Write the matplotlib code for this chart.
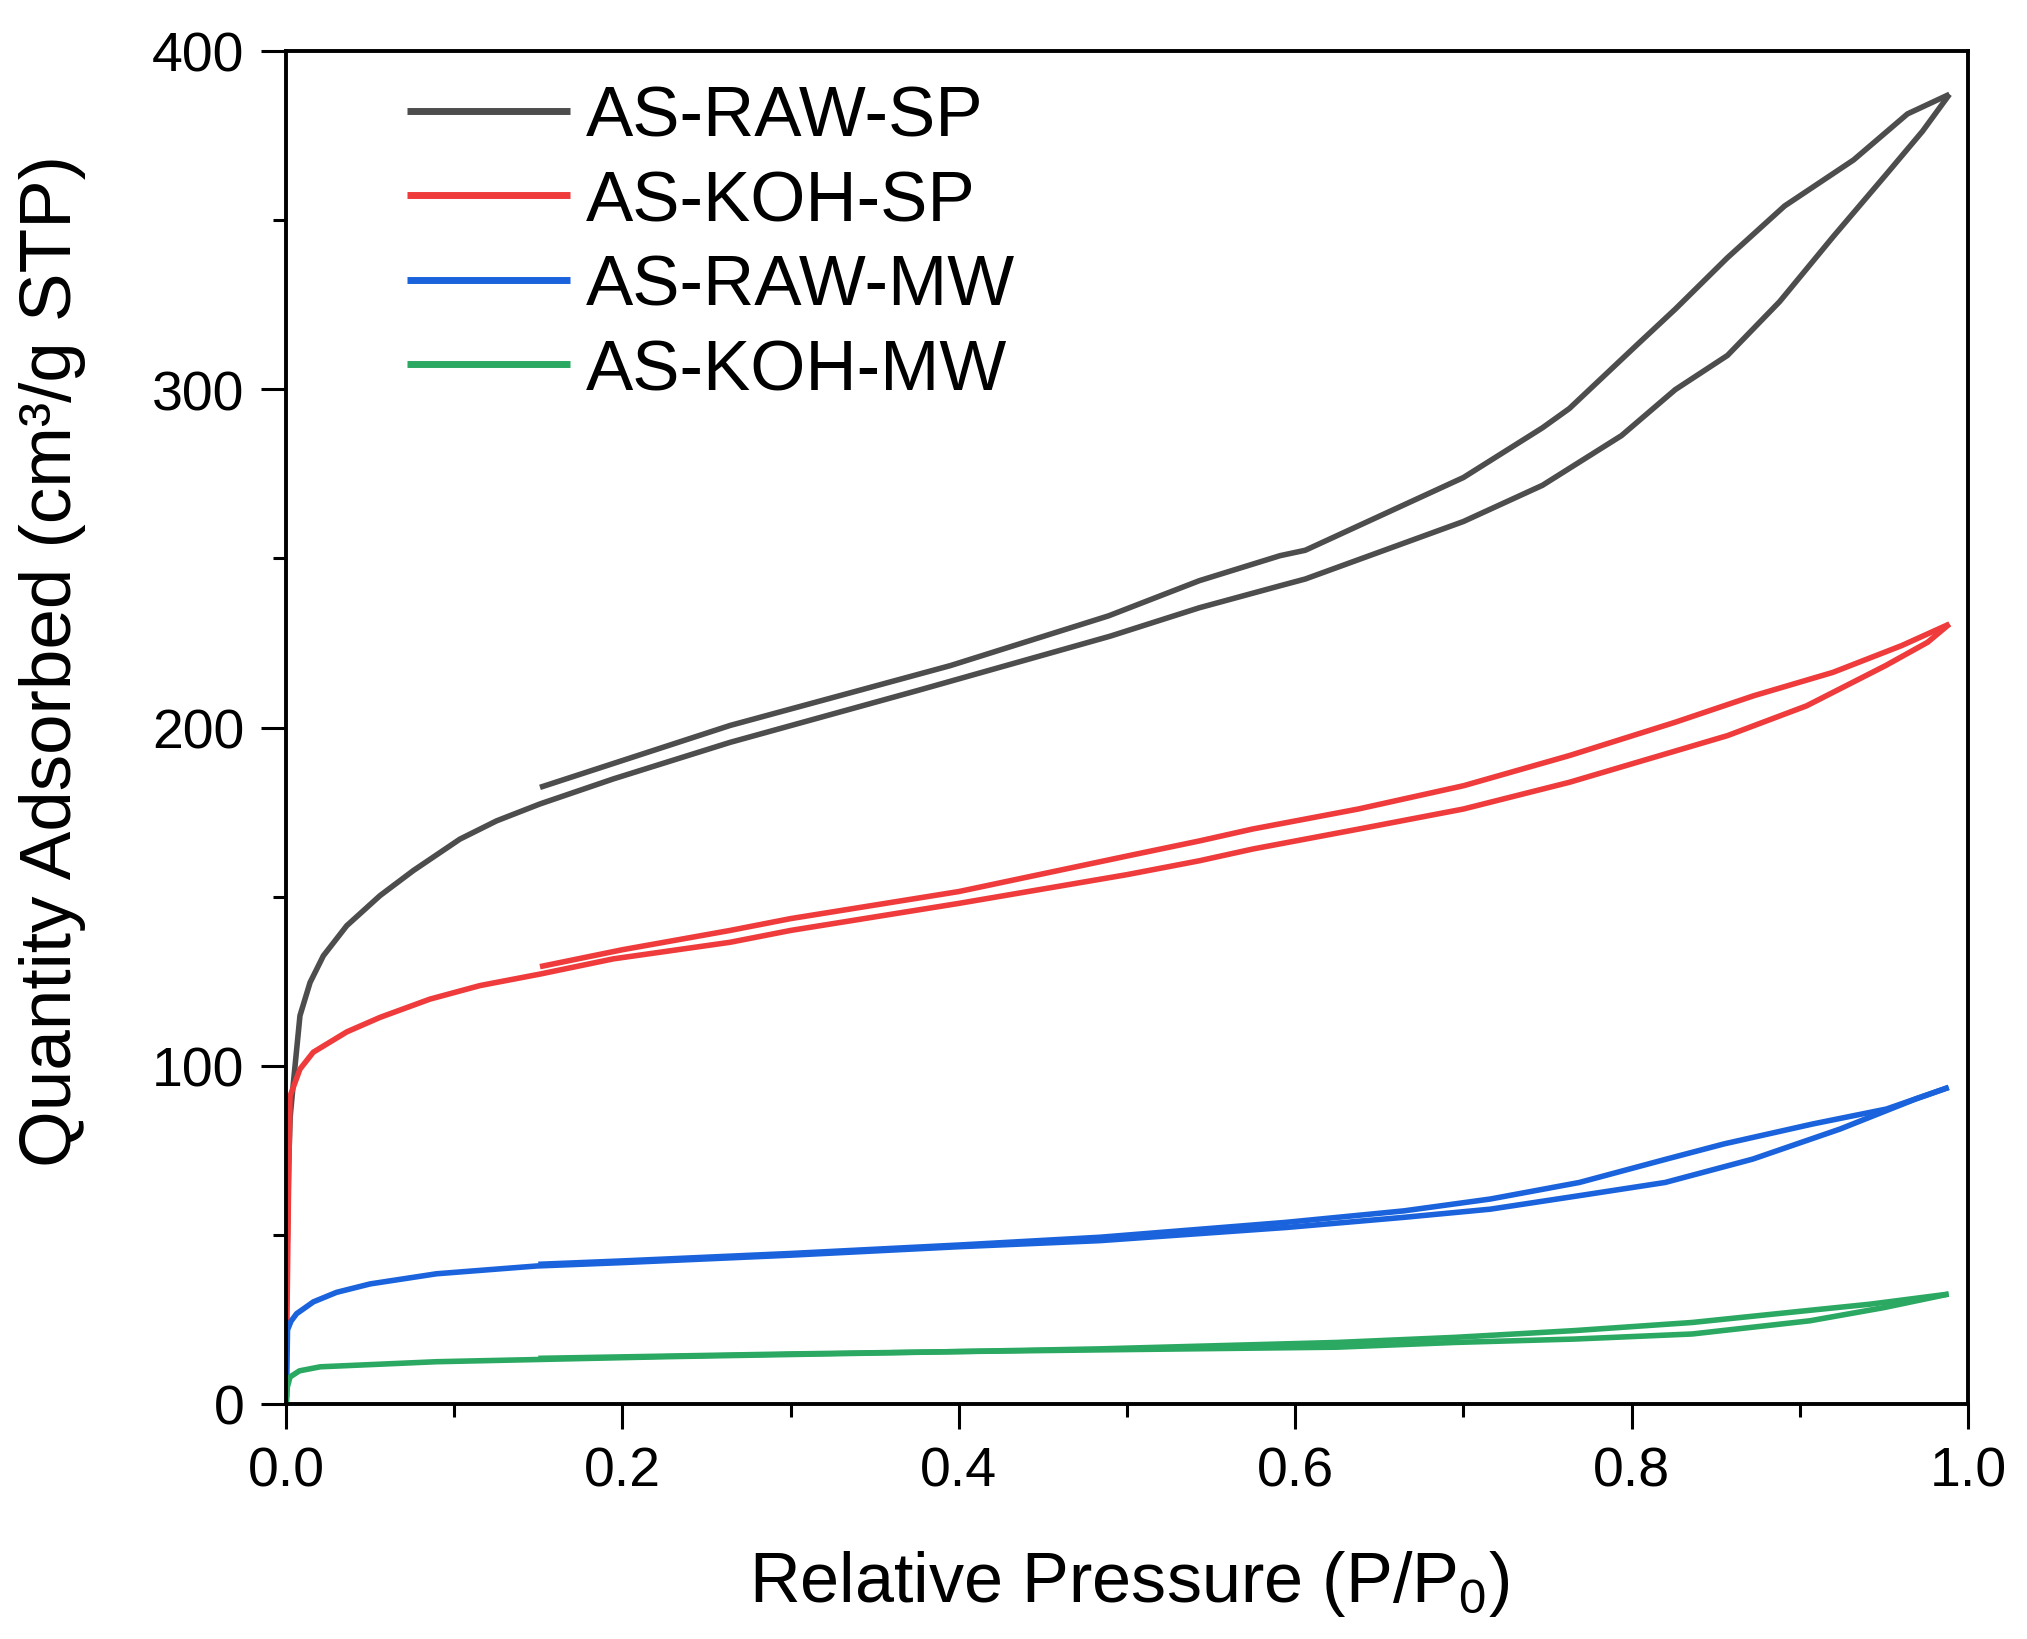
import matplotlib
matplotlib.use("Agg")
import matplotlib.pyplot as plt
from matplotlib.ticker import MultipleLocator

plt.rcParams['font.family'] = ['Liberation Sans', 'DejaVu Sans']
plt.rcParams['mathtext.default'] = 'regular'

# AS-RAW-SP
raw_sp_ads_p = [0.0008, 0.0015, 0.0025, 0.0044, 0.0083, 0.0143, 0.0222, 0.0361, 0.0559, 0.0757,
                0.1034, 0.1252, 0.151, 0.1946, 0.264, 0.376, 0.49, 0.543, 0.591, 0.606, 0.700,
                0.747, 0.794, 0.826, 0.857, 0.888, 0.920, 0.951, 0.973, 0.989]
raw_sp_ads_q = [48, 70, 85, 95, 114.8, 124.6, 132.5, 141.4, 150.3, 157.7,
                167, 172.4, 177.4, 184.8, 195.6, 211, 227, 235.4, 241.9, 243.9, 260.9,
                271.6, 286.3, 299.9, 310, 325.9, 345.2, 363.3, 376.3, 387.2]
raw_sp_des_p = [0.989, 0.964, 0.932, 0.891, 0.857, 0.826, 0.804, 0.763, 0.747, 0.700, 0.606,
                0.591, 0.543, 0.489, 0.395, 0.264, 0.151]
raw_sp_des_q = [387.2, 381.4, 367.8, 354.2, 338.9, 323.7, 313.5, 294.3, 288.6, 273.9, 252.4,
                250.8, 243.4, 233, 218.3, 200.6, 182.3]

# AS-KOH-SP
koh_sp_ads_p = [0.0005, 0.0014, 0.0024, 0.0083, 0.0162, 0.0361, 0.0559, 0.0856, 0.1153, 0.151,
                0.1946, 0.264, 0.3, 0.4, 0.5, 0.543, 0.575, 0.638, 0.700, 0.763, 0.810, 0.857,
                0.904, 0.951, 0.976, 0.989]
koh_sp_ads_q = [22, 60, 91, 99, 104, 110, 114.3, 119.7, 123.7, 127.1,
                131.6, 136.5, 140, 148, 156.5, 160.6, 164.1, 170, 175.9, 183.8, 190.7, 197.6,
                206.4, 218.3, 225.2, 230.6]
koh_sp_des_p = [0.989, 0.9605, 0.9197, 0.8727, 0.8256, 0.763, 0.7002, 0.6375, 0.5748, 0.5434,
                0.5, 0.4, 0.3, 0.264, 0.2, 0.151]
koh_sp_des_q = [230.6, 224.2, 216.3, 209.4, 201.5, 191.7, 182.8, 175.9, 170, 166.5,
                162, 151.5, 143.5, 140, 134.3, 129.3]

# AS-RAW-MW
raw_mw_ads_p = [0.0003, 0.0009, 0.003, 0.0063, 0.0163, 0.03, 0.05, 0.0895, 0.149, 0.2, 0.3,
                0.4, 0.484, 0.595, 0.665, 0.716, 0.769, 0.820, 0.872, 0.924, 0.969, 0.9885]
raw_mw_ads_q = [2, 21.9, 24.5, 26.7, 30.2, 33, 35.5, 38.5, 40.8, 41.8, 44,
                46.5, 48.3, 52.2, 55.2, 57.6, 61.6, 65.5, 72.4, 81.3, 90.2, 93.6]
raw_mw_des_p = [0.9885, 0.9515, 0.9078, 0.855, 0.8207, 0.769, 0.716, 0.6647, 0.5945, 0.4839,
                0.4, 0.3, 0.2, 0.15]
raw_mw_des_q = [93.6, 87.2, 82.8, 76.9, 72.4, 65.5, 60.6, 57.1, 53.7, 49.3,
                47, 44.5, 42.3, 41.3]

# AS-KOH-MW
koh_mw_ads_p = [0.0003, 0.0008, 0.0024, 0.008, 0.0204, 0.0895, 0.228, 0.4, 0.484, 0.625, 0.695,
                0.766, 0.836, 0.906, 0.95, 0.9885]
koh_mw_ads_q = [0.5, 5, 8, 9.8, 11, 12.5, 14, 15.5, 16, 16.8, 18.2,
                19.2, 20.7, 24.6, 28.5, 32.5]
koh_mw_des_p = [0.9885, 0.9416, 0.906, 0.836, 0.766, 0.695, 0.625, 0.484, 0.4, 0.3, 0.15]
koh_mw_des_q = [32.5, 29.5, 27.7, 24.1, 21.7, 19.7, 18.2, 16.3, 15.5, 14.8, 13.5]

series = [
    ('AS-RAW-SP', '#4d4d4d', raw_sp_ads_p, raw_sp_ads_q, raw_sp_des_p, raw_sp_des_q),
    ('AS-KOH-SP', '#ef3b3b', koh_sp_ads_p, koh_sp_ads_q, koh_sp_des_p, koh_sp_des_q),
    ('AS-RAW-MW', '#1a63dc', raw_mw_ads_p, raw_mw_ads_q, raw_mw_des_p, raw_mw_des_q),
    ('AS-KOH-MW', '#2ba862', koh_mw_ads_p, koh_mw_ads_q, koh_mw_des_p, koh_mw_des_q),
]

fig = plt.figure(figsize=(20.27, 16.40), dpi=100)
ax = fig.add_axes([286 / 2027, 1 - 1405 / 1640, (1968 - 286) / 2027, (1405 - 52) / 1640])

for name, col, ap, aq, dp, dq in series:
    ax.plot(ap, aq, color=col, lw=4, label=name, solid_capstyle='butt', solid_joinstyle='round')
    ax.plot(dp, dq, color=col, lw=4, solid_capstyle='butt', solid_joinstyle='round')

ax.set_xlim(0, 1)
ax.set_ylim(0, 400)
ax.xaxis.set_major_locator(MultipleLocator(0.2))
ax.xaxis.set_minor_locator(MultipleLocator(0.1))
ax.yaxis.set_major_locator(MultipleLocator(100))
ax.yaxis.set_minor_locator(MultipleLocator(50))
ax.xaxis.set_major_formatter(matplotlib.ticker.FormatStrFormatter('%.1f'))
ax.tick_params(which='both', direction='out', top=False, right=False, width=2.2, labelsize=40)
ax.tick_params(which='major', length=18)
ax.tick_params(which='minor', length=9.5)
ax.tick_params(axis='x', pad=12)
ax.tick_params(axis='y', pad=12)
for s in ax.spines.values():
    s.set_linewidth(2.8)

leg = ax.legend(loc='upper left', bbox_to_anchor=(0.072, 0.975), frameon=False, fontsize=51,
                handlelength=2.3, handletextpad=0.22, labelspacing=0.26,
                borderpad=0, borderaxespad=0)
for ln in leg.get_lines():
    ln.set_linewidth(5)

fig.text(1129 / 2027, 1 - 1602 / 1640, 'Relative Pressure (P/P$_0$)', fontsize=50.5,
         ha='center', va='baseline')
fig.text(71 / 2027, 1 - 661 / 1640, 'Quantity Adsorbed (cm³/g STP)', fontsize=52.5,
         rotation=90, rotation_mode='anchor', ha='center', va='baseline')

fig.savefig('out.png', dpi=100)
